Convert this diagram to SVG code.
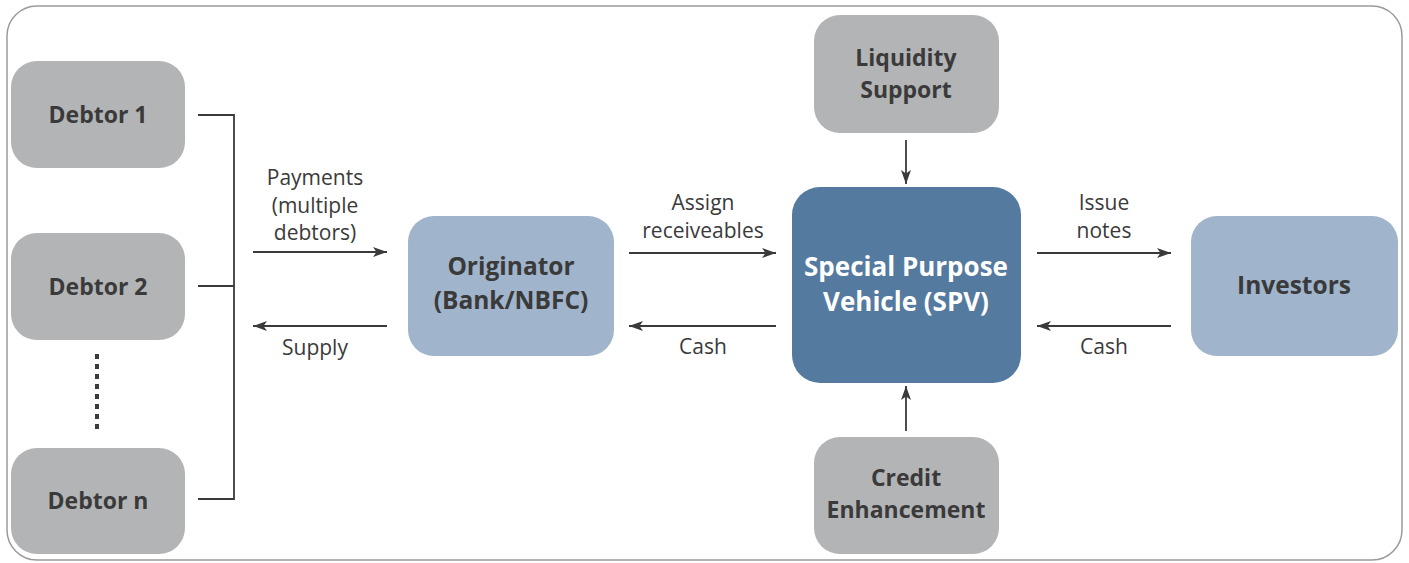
<svg xmlns="http://www.w3.org/2000/svg" width="1409" height="563" viewBox="0 0 1409 563">
<defs>
<marker id="ah" viewBox="0 0 14 10" refX="14" refY="5" markerWidth="14" markerHeight="10" markerUnits="userSpaceOnUse" orient="auto">
<path d="M0,0 L14,5 L0,10 L3.5,5 Z" fill="#3a3a3a"/>
</marker>
<style>
.grey{fill:#b3b4b6}
.light{fill:#a0b4cb}
.dark{fill:#557a9f}
.nt{font-family:"Open Sans","Noto Sans",sans-serif;font-weight:bold;font-size:23px;fill:#3a3a3a;text-anchor:middle}
.nt2{font-family:"Open Sans","Noto Sans",sans-serif;font-weight:bold;font-size:24.5px;fill:#3a3a3a;text-anchor:middle}
.wt{font-family:"Open Sans","Noto Sans",sans-serif;font-weight:bold;font-size:26px;fill:#ffffff;text-anchor:middle}
.lb{font-family:"Open Sans","Noto Sans",sans-serif;font-size:21px;fill:#3a3a3a;text-anchor:middle}
.ln{stroke:#3a3a3a;stroke-width:1.8;fill:none}
.ar{stroke:#3a3a3a;stroke-width:1.8;fill:none;marker-end:url(#ah)}
</style>
</defs>
<rect x="7" y="6" width="1395" height="554" rx="30" fill="#ffffff" stroke="#9a9a9a" stroke-width="1.5"/>

<g id="debtor1"><rect class="grey" x="11" y="61" width="174" height="107" rx="26"/><text class="nt" x="98" y="123">Debtor 1</text></g>
<g id="debtor2"><rect class="grey" x="11" y="233" width="174" height="107" rx="26"/><text class="nt" x="98" y="295">Debtor 2</text></g>
<g id="debtorn"><rect class="grey" x="11" y="448" width="174" height="106" rx="26"/><text class="nt" x="98" y="509">Debtor n</text></g>
<g id="originator"><rect class="light" x="408" y="216" width="206" height="140" rx="26"/><text class="nt2" x="511" y="275">Originator</text><text class="nt2" x="511" y="309">(Bank/NBFC)</text></g>
<g id="spv"><rect class="dark" x="792" y="187" width="229" height="196" rx="28"/><text class="wt" x="906" y="276">Special Purpose</text><text class="wt" x="906" y="311">Vehicle (SPV)</text></g>
<g id="investors"><rect class="light" x="1191" y="216" width="207" height="140" rx="26"/><text class="nt2" x="1294" y="294">Investors</text></g>
<g id="liquidity"><rect class="grey" x="814" y="15" width="185" height="118" rx="26"/><text class="nt" x="906" y="66">Liquidity</text><text class="nt" x="906" y="98">Support</text></g>
<g id="credit"><rect class="grey" x="814" y="437" width="185" height="117" rx="26"/><text class="nt" x="906" y="486">Credit</text><text class="nt" x="906" y="518">Enhancement</text></g>

<g id="connectors">
<path class="ln" d="M198,115 H234 V499 H198 M198,286 H234"/>
<line x1="97" y1="354" x2="97" y2="434" stroke="#3a3a3a" stroke-width="4" stroke-dasharray="5,5"/>
<line class="ar" x1="253" y1="252" x2="387" y2="252"/>
<line class="ar" x1="387" y1="326" x2="253" y2="326"/>
<line class="ar" x1="629" y1="253" x2="776" y2="253"/>
<line class="ar" x1="776" y1="326" x2="629" y2="326"/>
<line class="ar" x1="1037" y1="253" x2="1171" y2="253"/>
<line class="ar" x1="1171" y1="326" x2="1037" y2="326"/>
<line class="ar" x1="906" y1="140" x2="906" y2="184"/>
<line class="ar" x1="906" y1="431" x2="906" y2="386"/>
</g>

<g id="labels">
<text class="lb" x="315" y="185">Payments</text>
<text class="lb" x="315" y="213">(multiple</text>
<text class="lb" x="315" y="240">debtors)</text>
<text class="lb" x="315" y="355">Supply</text>
<text class="lb" x="703" y="210">Assign</text>
<text class="lb" x="703" y="238">receiveables</text>
<text class="lb" x="703" y="354">Cash</text>
<text class="lb" x="1104" y="210">Issue</text>
<text class="lb" x="1104" y="238">notes</text>
<text class="lb" x="1104" y="354">Cash</text>
</g>
</svg>
